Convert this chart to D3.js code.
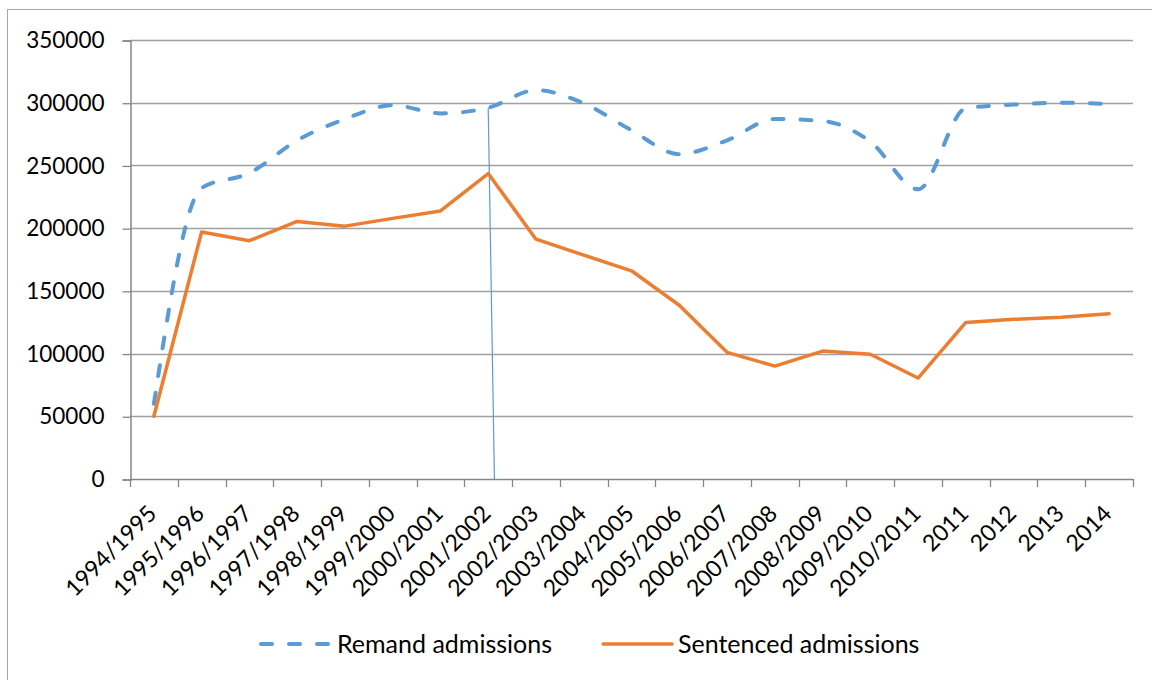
<!DOCTYPE html>
<html>
<head>
<meta charset="utf-8">
<script src="https://cdn.jsdelivr.net/npm/d3@7"></script>
<style>
  body { margin: 0; background: #fff; }
  svg text { font-family: Lato, "Noto Sans", sans-serif; fill: #000; }
</style>
</head>
<body>
<svg id="chart" width="1152" height="680"></svg>
<script>
// chart data
const categories = ['1994/1995', '1995/1996', '1996/1997', '1997/1998', '1998/1999', '1999/2000',
  '2000/2001', '2001/2002', '2002/2003', '2003/2004', '2004/2005', '2005/2006', '2006/2007',
  '2007/2008', '2008/2009', '2009/2010', '2010/2011', '2011', '2012', '2013', '2014'];
const remand = [60000, 232000, 244000, 270000, 287000, 298000, 291500, 296000, 310000, 299500,
  278000, 259000, 270000, 287000, 285500, 269000, 231000, 295500, 298500, 300000, 299000];
const sentenced = [50000, 197000, 190000, 205300, 201600, 207800, 213700, 243500, 191200, 178500,
  166000, 138500, 101000, 90000, 102000, 99500, 80500, 124800, 127300, 128900, 131800];
const yTicks = [0, 50000, 100000, 150000, 200000, 250000, 300000, 350000];
const seriesNames = ['Remand admissions', 'Sentenced admissions'];

const blue = '#5B9BD5';
const orange = '#ED7D31';

const svg = d3.select('#chart');

// outer frame (runs off the right/bottom edge in the original)
svg.append('rect')
  .attr('x', 7.5).attr('y', 9.5)
  .attr('width', 1170).attr('height', 700)
  .attr('fill', 'none').attr('stroke', '#a6a6a6').attr('stroke-width', 1);

const x = d3.scaleBand().domain(categories).range([130, 1133]).padding(0);
const y = d3.scaleLinear().domain([0, 350000]).range([479, 40]);
const cx = d => x(d) + x.bandwidth() / 2;

// gridlines
svg.append('g').selectAll('line')
  .data(yTicks.filter(v => v > 0))
  .enter().append('line')
  .attr('x1', 130).attr('x2', 1133)
  .attr('y1', d => Math.round(y(d)) + 0.5).attr('y2', d => Math.round(y(d)) + 0.5)
  .attr('stroke', '#a0a0a0').attr('stroke-width', 1.3);

// y axis
const yAxis = svg.append('g')
  .attr('transform', 'translate(130.5,0.5)')
  .call(d3.axisLeft(y).tickValues(yTicks).tickSize(8).tickPadding(18).tickFormat(d3.format('d')));
yAxis.select('.domain').attr('stroke', '#868686').attr('stroke-width', 1.5);
yAxis.selectAll('.tick line').attr('stroke', '#868686').attr('stroke-width', 1.3);
yAxis.selectAll('.tick text')
  .attr('font-size', 22.5).attr('font-family', 'Lato, sans-serif').attr('fill', '#000');

// x axis line and boundary ticks
const bounds = categories.map(c => x(c)).concat([x.range()[1]]);
svg.append('line')
  .attr('x1', 130).attr('x2', 1133).attr('y1', 479.5).attr('y2', 479.5)
  .attr('stroke', '#868686').attr('stroke-width', 1.5);
svg.append('g').selectAll('line')
  .data(bounds).enter().append('line')
  .attr('x1', d => Math.round(d) + 0.5).attr('x2', d => Math.round(d) + 0.5)
  .attr('y1', 479).attr('y2', 487)
  .attr('stroke', '#868686').attr('stroke-width', 1.3);

// x labels rotated -45
svg.append('g').selectAll('text')
  .data(categories).enter().append('text')
  .attr('transform', d => `translate(${cx(d) + 4},${515}) rotate(-45)`)
  .attr('text-anchor', 'end')
  .attr('font-size', 23)
  .text(d => d);

// stray drop line from the 2001/2002 remand point (present in original)
svg.append('line')
  .attr('x1', cx(categories[7])).attr('y1', y(remand[7]))
  .attr('x2', cx(categories[7]) + x.bandwidth() * 0.13).attr('y2', y(0))
  .attr('stroke', blue).attr('stroke-width', 1.2);

// series lines
const remandLine = d3.line()
  .x((d, i) => cx(categories[i]))
  .y(d => y(d))
  .curve(d3.curveMonotoneX);
const sentencedLine = d3.line()
  .x((d, i) => cx(categories[i]))
  .y(d => y(d));

svg.append('path')
  .datum(remand)
  .attr('d', remandLine)
  .attr('fill', 'none').attr('stroke', blue).attr('stroke-width', 4)
  .attr('stroke-dasharray', '11 17').attr('stroke-linecap', 'round');

svg.append('path')
  .datum(sentenced)
  .attr('d', sentencedLine)
  .attr('fill', 'none').attr('stroke', orange).attr('stroke-width', 3.5)
  .attr('stroke-linejoin', 'round').attr('stroke-linecap', 'round');

// legend
const legend = svg.append('g');
legend.append('line')
  .attr('x1', 261).attr('x2', 331).attr('y1', 644).attr('y2', 644)
  .attr('stroke', blue).attr('stroke-width', 4)
  .attr('stroke-dasharray', '11 17').attr('stroke-linecap', 'round');
legend.append('text')
  .attr('x', 337).attr('y', 644).attr('dy', '0.36em')
  .attr('font-size', 25).text(seriesNames[0]);
legend.append('line')
  .attr('x1', 603).attr('x2', 672).attr('y1', 644).attr('y2', 644)
  .attr('stroke', orange).attr('stroke-width', 3.5).attr('stroke-linecap', 'round');
legend.append('text')
  .attr('x', 678).attr('y', 644).attr('dy', '0.36em')
  .attr('font-size', 25).text(seriesNames[1]);
</script>
</body>
</html>
